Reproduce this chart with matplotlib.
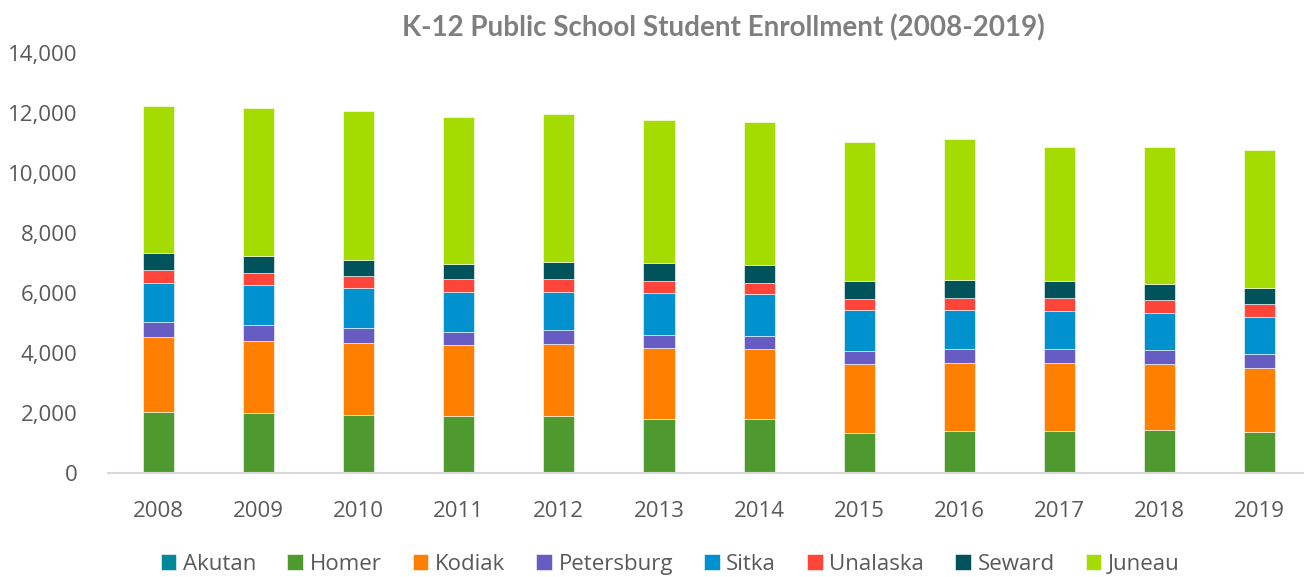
import matplotlib.pyplot as plt
import numpy as np

years = ['2008', '2009', '2010', '2011', '2012', '2013',
         '2014', '2015', '2016', '2017', '2018', '2019']

# segment sizes
akutan = [15, 15, 15, 15, 15, 15, 15, 15, 15, 15, 15, 15]
homer = [2030, 1975, 1910, 1875, 1895, 1775, 1795, 1330, 1385, 1395, 1410, 1340]
kodiak = [2480, 2420, 2410, 2375, 2400, 2375, 2325, 2280, 2265, 2255, 2210, 2165]
petersburg = [513, 513, 490, 423, 457, 423, 434, 444, 456, 456, 457, 467]
sitka = [1310, 1334, 1344, 1353, 1276, 1400, 1390, 1366, 1310, 1287, 1233, 1220]
unalaska = [410, 410, 410, 414, 424, 410, 376, 377, 390, 413, 434, 423]
seward = [567, 556, 533, 520, 576, 590, 610, 600, 600, 567, 553, 557]
juneau = [4923, 4944, 4967, 4900, 4914, 4777, 4747, 4623, 4710, 4477, 4557, 4567]

series = [('Akutan', akutan, '#00899b'),
          ('Homer', homer, '#4f9a2e'),
          ('Kodiak', kodiak, '#ff8000'),
          ('Petersburg', petersburg, '#665cc2'),
          ('Sitka', sitka, '#0092cf'),
          ('Unalaska', unalaska, '#ff453a'),
          ('Seward', seward, '#00525b'),
          ('Juneau', juneau, '#a4db00')]

plt.rcParams['font.family'] = ['Open Sans', 'DejaVu Sans']

fig = plt.figure(figsize=(13.04, 5.77), dpi=100)
ax = fig.add_axes([0.083, 0.18, 0.92, 0.728])

x = np.arange(len(years))
bottom = np.zeros(len(years))
for name, vals, color in series:
    ax.bar(x, vals, 0.31, bottom=bottom, color=color, label=name,
           edgecolor='white', linewidth=0.4)
    bottom += np.array(vals)

ax.set_xlim(-0.5, 11.48)
ax.set_ylim(0, 14000)
ax.set_yticks(np.arange(0, 14001, 2000))
ax.set_yticklabels([f'{v:,}' for v in range(0, 14001, 2000)])
ax.set_xticks(x)
ax.set_xticklabels(years)
ax.tick_params(axis='both', length=0, labelsize=16, colors='#595959')
ax.tick_params(axis='x', pad=20)
ax.tick_params(axis='y', pad=22)
for s in ['top', 'right', 'left']:
    ax.spines[s].set_visible(False)
ax.spines['bottom'].set_color('#d9d9d9')
ax.spines['bottom'].set_linewidth(1.5)

fig.text(0.555, 0.952, 'K-12 Public School Student Enrollment (2008-2019)',
         ha='center', va='center', fontsize=20, fontweight='bold', color='#7f7f7f',
         family=['Lato', 'DejaVu Sans'])

fig.legend(loc='center', bbox_to_anchor=(0.514, 0.022), ncol=8, frameon=False,
           fontsize=16, handlelength=0.7, handleheight=0.7, handletextpad=0.3,
           columnspacing=1.4, labelcolor='#595959')

fig.savefig('out.png', dpi=100)
